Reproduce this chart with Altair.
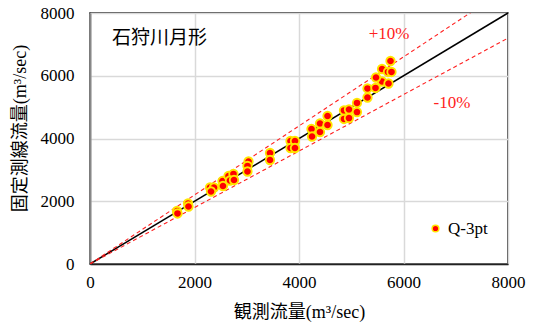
import altair as alt
import pandas as pd

# Observed discharge vs. discharge from the fixed cross-section rating (m3/sec)
observed = [1665, 1675, 1876, 1885, 2297, 2373, 2316, 2536, 2545, 2651, 2746,
            2679, 2756, 3034, 3014, 3014, 3445, 3445, 3837, 3923, 3837, 3923,
            4239, 4249, 4402, 4402, 4546, 4546, 4861, 4957, 4861, 4957, 5110,
            5110, 5311, 5311, 5464, 5589, 5713, 5751, 5589, 5703, 5770, 5474]
fixed_line = [1689, 1610, 1928, 1833, 2438, 2438, 2311, 2645, 2486, 2805, 2869,
              2661, 2677, 3267, 3124, 2948, 3538, 3315, 3920, 3920, 3697, 3697,
              4303, 4064, 4478, 4207, 4717, 4430, 4893, 4924, 4622, 4653, 5132,
              4844, 5594, 5307, 5610, 5817, 5753, 6470, 6215, 6120, 6120, 5944]
series_name = "Q-3pt"

axis_max = 8000
tick_values = [0, 2000, 4000, 6000, 8000]
band_ratios = [1.1, 0.9]
band_labels = ["+10%", "-10%"]

SERIF = "Times New Roman, Liberation Serif, serif"
MIXED = "Times New Roman, Liberation Serif, Noto Sans CJK JP"
CJK = "Noto Sans CJK JP"

pts = pd.DataFrame({"obs": observed, "fix": fixed_line, "series": series_name})

diag = pd.DataFrame({"obs": [0, axis_max], "fix": [0, axis_max]})
band_rows = []
for r, lab in zip(band_ratios, band_labels):
    for xv in (0, axis_max):
        band_rows.append({"obs": xv, "fix": r * xv, "band": lab})
bands = pd.DataFrame(band_rows)

xscale = alt.Scale(domain=[0, axis_max], nice=False, zero=True)
yscale = alt.Scale(domain=[0, axis_max], nice=False, zero=True)

x_axis = alt.Axis(
    values=tick_values, format="d", grid=True, ticks=False,
    labelFont=SERIF, labelFontSize=17, labelColor="#000", labelPadding=10,
    labelFlush=False, labelOverlap=False,
    title="観測流量(m³/sec)", titleFont=MIXED, titleFontSize=18,
    titleFontWeight="normal", titleColor="#000",
    titleBaseline="middle", titleY=48,
    domainColor="#222", domainWidth=1.5,
)
y_axis = alt.Axis(
    values=tick_values, format="d", grid=True, ticks=False,
    labelFont=SERIF, labelFontSize=17, labelColor="#000", labelPadding=16,
    labelFlush=False, labelOverlap=False,
    title="固定測線流量(m³/sec)", titleFont=MIXED, titleFontSize=18,
    titleFontWeight="normal", titleColor="#000", titleAngle=270,
    titleAlign="center", titleBaseline="middle", titleX=-70, titleY=115,
    domainColor="#888", domainWidth=2,
)

diag_line = alt.Chart(diag).mark_line(color="#000", strokeWidth=1.5).encode(
    x=alt.X("obs:Q", scale=xscale, axis=x_axis),
    y=alt.Y("fix:Q", scale=yscale, axis=y_axis),
)

band_lines = alt.Chart(bands).mark_line(
    color="#ff2020", strokeWidth=1.1, strokeDash=[4, 3], clip=True
).encode(
    x=alt.X("obs:Q", scale=xscale, axis=x_axis),
    y=alt.Y("fix:Q", scale=yscale, axis=y_axis),
    detail="band:N",
)

points = alt.Chart(pts).mark_point(
    filled=True, shape="circle", size=72, stroke="#ffe600", strokeWidth=1.8,
    opacity=1, fillOpacity=1
).encode(
    x=alt.X("obs:Q", scale=xscale, axis=x_axis),
    y=alt.Y("fix:Q", scale=yscale, axis=y_axis),
    fill=alt.Fill(
        "series:N",
        scale=alt.Scale(domain=[series_name], range=["#ff0000"]),
        legend=alt.Legend(
            title=None, orient="none", legendX=333, legendY=203,
            labelFont=SERIF, labelFontSize=17, labelColor="#000",
            symbolType="circle", symbolSize=45, symbolStrokeColor="#ffe600",
            symbolStrokeWidth=1.5, symbolFillColor="#ff0000", labelOffset=4,
            fillColor="white", padding=4,
        ),
    ),
)

# +10% / -10% band annotations
plus_text = alt.Chart(pd.DataFrame({"label": [band_labels[0]]})).mark_text(
    font=SERIF, fontSize=17, color="#ff2020", align="center", baseline="middle"
).encode(x=alt.value(299), y=alt.value(21), text="label:N")
minus_text = alt.Chart(pd.DataFrame({"label": [band_labels[1]]})).mark_text(
    font=SERIF, fontSize=17, color="#ff2020", align="center", baseline="middle"
).encode(x=alt.value(362), y=alt.value(90), text="label:N")

station = alt.Chart(pd.DataFrame({"label": ["石狩川月形"]})).mark_text(
    font=CJK, fontSize=19, color="#000", align="left", baseline="middle"
).encode(x=alt.value(22), y=alt.value(25), text="label:N")

chart = alt.layer(
    diag_line, band_lines, points, plus_text, minus_text, station
).properties(
    width=418, height=251,
    padding={"left": 90, "top": 13, "right": 25, "bottom": 63},
    autosize=alt.AutoSizeParams(type="none"),
    background="white",
).configure_view(
    stroke="#111", strokeWidth=1.5
).configure_axis(
    gridColor="#d9d9d9", gridWidth=1.5, labelFont=SERIF, labelFontSize=17,
    labelFontWeight="normal"
)

chart.save("out.html", embed_options={"renderer": "svg", "actions": False})
